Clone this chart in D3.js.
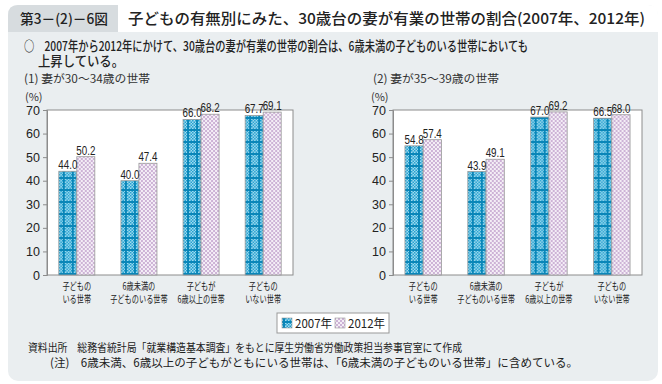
<!DOCTYPE html>
<html>
<head>
<meta charset="utf-8">
<script src="https://cdn.jsdelivr.net/npm/d3@7"></script>
<style>
  body { margin: 0; background: #fff; }
  svg { display: block; }
  .jp { font-family: "Noto Sans CJK JP", sans-serif; }
  .num { font-family: "Liberation Sans", Arial, sans-serif; }
</style>
</head>
<body>
<svg id="chart" width="662" height="384"></svg>
<script>
// data -------------------------------------------------------------
const categories = [
  ["子どもの", "いる世帯"],
  ["6歳未満の", "子どものいる世帯"],
  ["子どもが", "6歳以上の世帯"],
  ["子どもの", "いない世帯"]
];
const seriesKeys = ["2007年", "2012年"];
const wife30to34 = { "2007年": [44.0, 40.0, 66.0, 67.7], "2012年": [50.2, 47.4, 68.2, 69.1] };
const wife35to39 = { "2007年": [54.8, 43.9, 67.0, 66.5], "2012年": [57.4, 49.1, 69.2, 68.0] };
const yTicks = [0, 10, 20, 30, 40, 50, 60, 70];

const svg = d3.select("#chart");

// rough width of a label: half-width digits, full-width kana/kanji
const labelWidth = (s, em) => Array.from(s).reduce((w, c) => w + (/[0-9A-Za-z.()%]/.test(c) ? 0.55 : 1) * em, 0);

// patterns ---------------------------------------------------------
const defs = svg.append("defs");

// 2007: blue checker with darker blue grid lines
const p1 = defs.append("pattern").attr("id", "pat2007")
  .attr("patternUnits", "userSpaceOnUse").attr("width", 9).attr("height", 12);
p1.append("rect").attr("width", 9).attr("height", 12).attr("fill", "#a6dcef");
for (let i = 0; i < 9; i += 1.5)
  for (let j = 0; j < 12; j += 1.5)
    if (((i + j) / 1.5) % 2 === 0)
      p1.append("rect").attr("x", i).attr("y", j).attr("width", 1.5).attr("height", 1.5).attr("fill", "#1f9fcf");
p1.append("rect").attr("x", 4).attr("y", 0).attr("width", 2).attr("height", 12).attr("fill", "#0a86b8");
p1.append("rect").attr("x", 0).attr("y", 9).attr("width", 9).attr("height", 2).attr("fill", "#0a86b8");

// 2012: light purple checker
const p2 = defs.append("pattern").attr("id", "pat2012")
  .attr("patternUnits", "userSpaceOnUse").attr("width", 4).attr("height", 4);
p2.append("rect").attr("width", 4).attr("height", 4).attr("fill", "#f4eef6");
p2.append("rect").attr("x", 0).attr("y", 0).attr("width", 2).attr("height", 2).attr("fill", "#cdb3d6");
p2.append("rect").attr("x", 2).attr("y", 2).attr("width", 2).attr("height", 2).attr("fill", "#cdb3d6");

const fillFor = { "2007年": "url(#pat2007)", "2012年": "url(#pat2012)" };

// background panel + header ---------------------------------------
svg.append("rect").attr("x", 8).attr("y", 5).attr("width", 650).attr("height", 376)
  .attr("rx", 10).attr("fill", "#eaeef0");
svg.append("path")
  .attr("d", "M8,32 V15 Q8,5 18,5 H118 V32 Z")
  .attr("fill", "#d7dcdf");
svg.append("path")
  .attr("d", "M118,5 H648 Q658,5 658,15 V32 H118 Z")
  .attr("fill", "#fff");

svg.append("text").attr("class", "jp").attr("x", 20).attr("y", 24)
  .attr("font-size", 14).attr("font-weight", 500).attr("fill", "#222")
  .attr("textLength", 88).attr("lengthAdjust", "spacingAndGlyphs")
  .text("第3－(2)－6図");
svg.append("text").attr("class", "jp").attr("x", 128).attr("y", 24)
  .attr("font-size", 15).attr("font-weight", 500).attr("fill", "#222")
  .attr("textLength", 517).attr("lengthAdjust", "spacingAndGlyphs")
  .text("子どもの有無別にみた、30歳台の妻が有業の世帯の割合(2007年、2012年)");

svg.append("text").attr("class", "jp").attr("x", 24).attr("y", 51)
  .attr("font-size", 13.5).attr("font-weight", 500).attr("fill", "#222")
  .attr("textLength", 504).attr("lengthAdjust", "spacingAndGlyphs")
  .text("○　2007年から2012年にかけて、30歳台の妻が有業の世帯の割合は、6歳未満の子どものいる世帯においても");
svg.append("text").attr("class", "jp").attr("x", 38).attr("y", 66)
  .attr("font-size", 13.5).attr("font-weight", 500).attr("fill", "#222")
  .attr("textLength", 86).attr("lengthAdjust", "spacingAndGlyphs")
  .text("上昇している。");

// panel drawing ----------------------------------------------------
const y = d3.scaleLinear().domain([0, 70]).range([275, 110]);

function drawPanel(values, left, right, subtitle, subX) {
  const g = svg.append("g");

  g.append("text").attr("class", "jp").attr("x", subX).attr("y", 83)
    .attr("font-size", 11.5).attr("fill", "#333")
    .attr("textLength", 126).attr("lengthAdjust", "spacingAndGlyphs").text(subtitle);
  g.append("text").attr("class", "jp").attr("x", left - 22).attr("y", 101)
    .attr("font-size", 11).attr("fill", "#333").text("(%)");

  const x = d3.scaleBand().domain(d3.range(categories.length))
    .range([left, right]).paddingInner(0.42).paddingOuter(0.19);
  const xs = d3.scaleBand().domain(seriesKeys).range([0, x.bandwidth()]);

  g.append("rect").attr("x", left).attr("y", y(70))
    .attr("width", right - left).attr("height", y(0) - y(70))
    .attr("fill", "#fff").attr("stroke", "#8c8c8c").attr("stroke-width", 1);

  const yAxis = g.append("g").attr("transform", `translate(${left},0)`)
    .call(d3.axisLeft(y).tickValues(yTicks).tickSize(4).tickPadding(3));
  yAxis.select(".domain").attr("stroke", "#8c8c8c");
  yAxis.selectAll(".tick line").attr("stroke", "#8c8c8c");
  yAxis.selectAll(".tick text").attr("class", "num").attr("font-size", 12.5).attr("fill", "#222");

  const groups = g.selectAll("g.cat").data(categories).join("g")
    .attr("class", "cat")
    .attr("transform", (d, i) => `translate(${x(i)},0)`);

  seriesKeys.forEach(k => {
    groups.append("rect")
      .attr("x", xs(k)).attr("width", xs.bandwidth())
      .attr("y", (d, i) => y(values[k][i]))
      .attr("height", (d, i) => y(0) - y(values[k][i]))
      .attr("fill", fillFor[k])
      .attr("stroke", "#9a9a9a").attr("stroke-width", 0.8);
  });
  seriesKeys.forEach(k => {
    groups.append("text").attr("class", "num")
      .attr("x", xs(k) + xs.bandwidth() / 2)
      .attr("y", (d, i) => y(values[k][i]) - 2)
      .attr("text-anchor", "middle").attr("font-size", 12).attr("fill", "#222")
      .attr("textLength", 19).attr("lengthAdjust", "spacingAndGlyphs")
      .text((d, i) => values[k][i].toFixed(1));
  });

  groups.selectAll("text.cl").data(d => d).join("text")
    .attr("class", "cl jp")
    .attr("x", x.bandwidth() / 2)
    .attr("y", (d, j) => 290 + j * 12.5)
    .attr("text-anchor", "middle").attr("font-size", 10).attr("fill", "#222")
    .attr("textLength", d => labelWidth(d, 7.2)).attr("lengthAdjust", "spacingAndGlyphs")
    .text(d => d);
}

drawPanel(wife30to34, 47, 293, "(1)  妻が30～34歳の世帯", 24);
drawPanel(wife35to39, 393, 642, "(2)  妻が35～39歳の世帯", 373);

// legend -----------------------------------------------------------
const lg = svg.append("g");
lg.append("rect").attr("x", 277).attr("y", 313).attr("width", 112).attr("height", 20)
  .attr("fill", "#fff").attr("stroke", "#999");
seriesKeys.forEach((k, i) => {
  const lx = 282 + i * 53;
  lg.append("rect").attr("x", lx).attr("y", 318).attr("width", 10).attr("height", 10)
    .attr("fill", fillFor[k]).attr("stroke", "#999").attr("stroke-width", 0.6);
  lg.append("text").attr("class", "jp").attr("x", lx + 13).attr("y", 327.5)
    .attr("font-size", 12).attr("fill", "#222")
    .attr("textLength", 37).attr("lengthAdjust", "spacingAndGlyphs").text(k);
});

// footer -----------------------------------------------------------
svg.append("text").attr("class", "jp").attr("x", 28).attr("y", 352)
  .attr("font-size", 11.5).attr("fill", "#222")
  .attr("textLength", 434).attr("lengthAdjust", "spacingAndGlyphs")
  .text("資料出所　総務省統計局「就業構造基本調査」をもとに厚生労働省労働政策担当参事官室にて作成");
svg.append("text").attr("class", "jp").attr("x", 50).attr("y", 367)
  .attr("font-size", 11.5).attr("fill", "#222")
  .attr("textLength", 528).attr("lengthAdjust", "spacingAndGlyphs")
  .text("(注)　6歳未満、6歳以上の子どもがともにいる世帯は、「6歳未満の子どものいる世帯」に含めている。");
</script>
</body>
</html>
